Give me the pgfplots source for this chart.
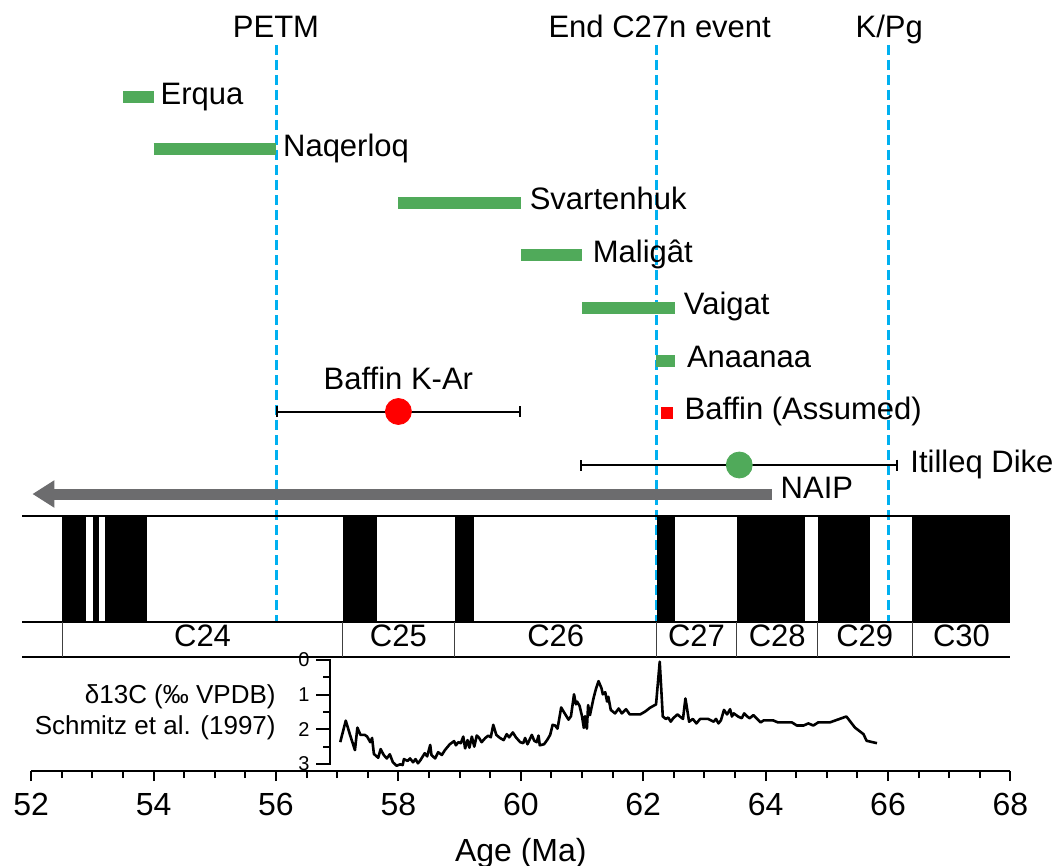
\documentclass[border=0pt]{standalone}
\usepackage{fontspec}
\setmainfont{Liberation Sans}
\usepackage{pgfplots}
\pgfplotsset{compat=1.18}
\usetikzlibrary{arrows.meta}

\definecolor{evtblue}{RGB}{0,176,240}
\definecolor{unitgreen}{RGB}{80,170,90}
\definecolor{naipgray}{RGB}{108,108,110}

\newcommand{\lblfont}{\fontsize{15.5}{18}\selectfont}
\newcommand{\tickfont}{\fontsize{16}{19}\selectfont}

\pgfplotstableread{
age d13c
57.05 2.37
57.14 1.75
57.21 2.16
57.29 2.60
57.33 1.95
57.38 2.16
57.45 2.16
57.49 2.21
57.54 2.37
57.57 2.25
57.60 2.71
57.67 2.82
57.71 2.57
57.76 2.74
57.81 2.84
57.86 2.72
57.91 2.95
57.97 3.05
58.03 3.01
58.07 3.03
58.09 2.86
58.15 2.91
58.19 2.84
58.24 2.95
58.28 2.86
58.32 2.98
58.36 2.89
58.43 2.69
58.47 2.78
58.52 2.45
58.54 2.74
58.60 2.84
58.65 2.66
58.71 2.74
58.76 2.60
58.84 2.43
58.91 2.34
58.94 2.46
58.98 2.37
59.02 2.40
59.06 2.21
59.09 2.55
59.13 2.31
59.16 2.53
59.20 2.21
59.24 2.50
59.28 2.18
59.32 2.25
59.36 2.37
59.42 2.25
59.47 2.18
59.51 2.23
59.55 1.87
59.60 2.16
59.66 2.25
59.72 2.31
59.77 2.14
59.81 2.23
59.87 2.09
59.92 2.23
59.99 2.37
60.04 2.40
60.07 2.25
60.11 2.43
60.18 2.16
60.22 2.33
60.26 2.37
60.29 2.18
60.31 2.46
60.38 2.43
60.43 2.31
60.48 2.16
60.52 1.87
60.56 1.89
60.60 1.98
60.66 1.37
60.70 1.49
60.78 1.72
60.82 1.62
60.87 0.99
60.90 1.28
60.92 1.20
60.96 1.32
61.00 1.62
61.03 1.96
61.05 1.62
61.08 1.98
61.10 1.30
61.13 1.59
61.19 1.09
61.23 0.82
61.27 0.61
61.32 0.82
61.34 0.99
61.38 0.93
61.41 1.20
61.43 1.06
61.47 1.44
61.54 1.54
61.60 1.40
61.65 1.54
61.72 1.42
61.78 1.57
61.95 1.57
62.03 1.49
62.11 1.38
62.21 1.28
62.27 0.05
62.30 0.99
62.32 1.63
62.37 1.70
62.41 1.66
62.45 1.78
62.49 1.68
62.56 1.57
62.60 1.63
62.65 1.70
62.69 1.11
62.72 1.44
62.75 1.78
62.81 1.70
62.87 1.83
62.93 1.70
63.06 1.70
63.15 1.78
63.19 1.70
63.23 1.83
63.27 1.74
63.32 1.44
63.37 1.57
63.42 1.42
63.45 1.63
63.48 1.54
63.55 1.63
63.61 1.68
63.65 1.54
63.70 1.63
63.74 1.68
63.80 1.59
63.85 1.68
63.92 1.80
63.97 1.74
64.12 1.74
64.20 1.80
64.43 1.80
64.51 1.89
64.62 1.89
64.70 1.83
64.78 1.89
64.86 1.80
65.05 1.80
65.32 1.63
65.46 1.95
65.60 2.14
65.65 2.33
65.82 2.40
}\carbon

\tikzset{
  lab/.style={anchor=base west, inner sep=0pt, yshift=-0.358em, font=\lblfont},
  clab/.style={anchor=base, inner sep=0pt, yshift=-0.358em, font=\lblfont},
  unit/.style={unitgreen, line width=6pt},
  chron/.style={fill=black, draw=none},
  event/.style={evtblue, line width=1.5pt, dash pattern=on 5pt off 2.5pt},
  errbar/.style={black, line width=1pt, {Bar[width=5.5pt]}-{Bar[width=5.5pt]}},
}

\begin{document}
\begin{tikzpicture}
% ---------------- main age axis (y = row position, top down) ----------------
\begin{axis}[
  scale only axis,
  width=489.6pt, height=385.5pt,
  xmin=52, xmax=68, ymin=0, ymax=771, y dir=reverse,
  clip=false,
  axis x line*=bottom, hide y axis,
  x axis line style={-, line width=1pt},
  xtick={52,54,...,68}, minor x tick num=3,
  tick align=outside,
  major tick length=5pt, minor tick length=3.5pt,
  every tick/.style={line width=1pt, black},
  xticklabel style={font=\tickfont, yshift=-2.5pt},
  /pgf/number format/assume math mode=true,
  xlabel={Age (Ma)}, xlabel style={font=\tickfont, yshift=-4.5pt},
]
% event lines
\addplot[event] coordinates {(56,45) (56,622)};
\addplot[event] coordinates {(62.21,45) (62.21,622)};
\addplot[event] coordinates {(66,45) (66,622)};
\node[clab] at (axis cs:56,30) {PETM};
\node[clab] at (axis cs:62.27,30) {End C27n event};
\node[clab] at (axis cs:66.02,30) {K/Pg};

% volcanic units
\addplot[unit] coordinates {(53.5,97) (54.0,97)};
\node[lab] at (axis cs:54.11,97) {Erqua};
\addplot[unit] coordinates {(54.0,149.5) (56.0,149.5)};
\node[lab] at (axis cs:56.11,149.5) {Naqerloq};
\addplot[unit] coordinates {(58.0,202.5) (60.0,202.5)};
\node[lab] at (axis cs:60.14,202.5) {Svartenhuk};
\addplot[unit] coordinates {(60.0,255) (61.0,255)};
\node[lab] at (axis cs:61.17,255) {Maligât};
\addplot[unit] coordinates {(61.0,307.5) (62.52,307.5)};
\node[lab] at (axis cs:62.66,307.5) {Vaigat};
\addplot[unit] coordinates {(62.21,360.5) (62.52,360.5)};
\node[lab] at (axis cs:62.71,360.5) {Anaanaa};
\addplot[red, line width=6pt] coordinates {(62.29,412.5) (62.49,412.5)};
\node[lab] at (axis cs:62.67,412.5) {Baffin (Assumed)};

% radiometric ages with uncertainty
\addplot[errbar] coordinates {(56.0,411.5) (60.0,411.5)};
\addplot[only marks, mark=*, mark size=6.5pt, red] coordinates {(58.0,411.5)};
\node[clab] at (axis cs:58.0,382.5) {Baffin K-Ar};
\addplot[errbar] coordinates {(60.97,465) (66.17,465)};
\addplot[only marks, mark=*, mark size=6.5pt, unitgreen] coordinates {(63.57,465)};
\node[lab] at (axis cs:66.36,465) {Itilleq Dike};

% NAIP activity
\addplot[naipgray, line width=5.5pt, -{Triangle[length=11pt, width=13pt]}] coordinates {(64.1,494) (52.02,494)};
\node[lab] at (axis cs:64.24,491) {NAIP};

% magnetic polarity (normal = black)
\addplot[chron] coordinates {(52.51,516) (52.90,516) (52.90,622) (52.51,622)} -- cycle;
\addplot[chron] coordinates {(53.01,516) (53.11,516) (53.11,622) (53.01,622)} -- cycle;
\addplot[chron] coordinates {(53.21,516) (53.89,516) (53.89,622) (53.21,622)} -- cycle;
\addplot[chron] coordinates {(57.09,516) (57.65,516) (57.65,622) (57.09,622)} -- cycle;
\addplot[chron] coordinates {(58.92,516) (59.24,516) (59.24,622) (58.92,622)} -- cycle;
\addplot[chron] coordinates {(62.22,516) (62.52,516) (62.52,622) (62.22,622)} -- cycle;
\addplot[chron] coordinates {(63.53,516) (64.64,516) (64.64,622) (63.53,622)} -- cycle;
\addplot[chron] coordinates {(64.85,516) (65.70,516) (65.70,622) (64.85,622)} -- cycle;
\addplot[chron] coordinates {(66.40,516) (68.00,516) (68.00,622) (66.40,622)} -- cycle;
\addplot[black, line width=1.2pt] coordinates {(51.85,516) (68,516)};
\addplot[black, line width=1.2pt] coordinates {(51.85,622) (68,622)};
\addplot[black, line width=1.2pt] coordinates {(51.85,657) (68,657)};
\addplot[black!75, line width=0.6pt, unbounded coords=jump] coordinates {
  (52.51,622) (52.51,657) (nan,nan)
  (57.09,622) (57.09,657) (nan,nan)
  (58.92,622) (58.92,657) (nan,nan)
  (62.22,622) (62.22,657) (nan,nan)
  (63.53,622) (63.53,657) (nan,nan)
  (64.85,622) (64.85,657) (nan,nan)
  (66.40,622) (66.40,657)};
\node[clab] at (axis cs:54.80,639.5) {C24};
\node[clab] at (axis cs:58.00,639.5) {C25};
\node[clab] at (axis cs:60.57,639.5) {C26};
\node[clab] at (axis cs:62.87,639.5) {C27};
\node[clab] at (axis cs:64.19,639.5) {C28};
\node[clab] at (axis cs:65.62,639.5) {C29};
\node[clab] at (axis cs:67.20,639.5) {C30};

\node[anchor=east, align=right, inner sep=0pt, font=\fontsize{13}{15.5}\selectfont]
  at (axis cs:56.0,712) {δ13C (‰ VPDB)\\Schmitz et al. (1997)};
\end{axis}

% ---------------- carbon isotope record ----------------
\begin{axis}[
  at={(149.63pt,3.5pt)}, anchor=south west,
  scale only axis, width=339.97pt, height=52pt,
  xmin=56.89, xmax=68, ymin=0, ymax=3, y dir=reverse,
  clip=false,
  axis x line=none, axis y line=left,
  y axis line style={-, line width=1pt, black},
  xtick=\empty,
  ytick={0,1,2,3},
  tick align=outside,
  major tick length=7pt,
  every tick/.style={line width=1pt, black},
  yticklabel style={font=\fontsize{10}{12}\selectfont},
  /pgf/number format/assume math mode=true,
]
% isotope scale: spine, major and minor ticks
\addplot[black, line width=1pt, line cap=rect] coordinates {(56.89,0) (56.89,3)};
\addplot[black, line width=1pt, unbounded coords=jump] coordinates {
  (56.89,0) (56.66,0) (nan,nan)
  (56.89,1) (56.66,1) (nan,nan)
  (56.89,2) (56.66,2) (nan,nan)
  (56.89,3) (56.66,3) (nan,nan)
  (56.89,0.5) (56.76,0.5) (nan,nan)
  (56.89,1.5) (56.76,1.5) (nan,nan)
  (56.89,2.5) (56.76,2.5)};
\addplot[black, line width=1.3pt, line join=round] table[x=age, y=d13c] {\carbon};
\end{axis}

\pgfresetboundingbox
\path (-15.6pt,-47.5pt) rectangle (511.9pt,385.5pt);
\end{tikzpicture}
\end{document}
